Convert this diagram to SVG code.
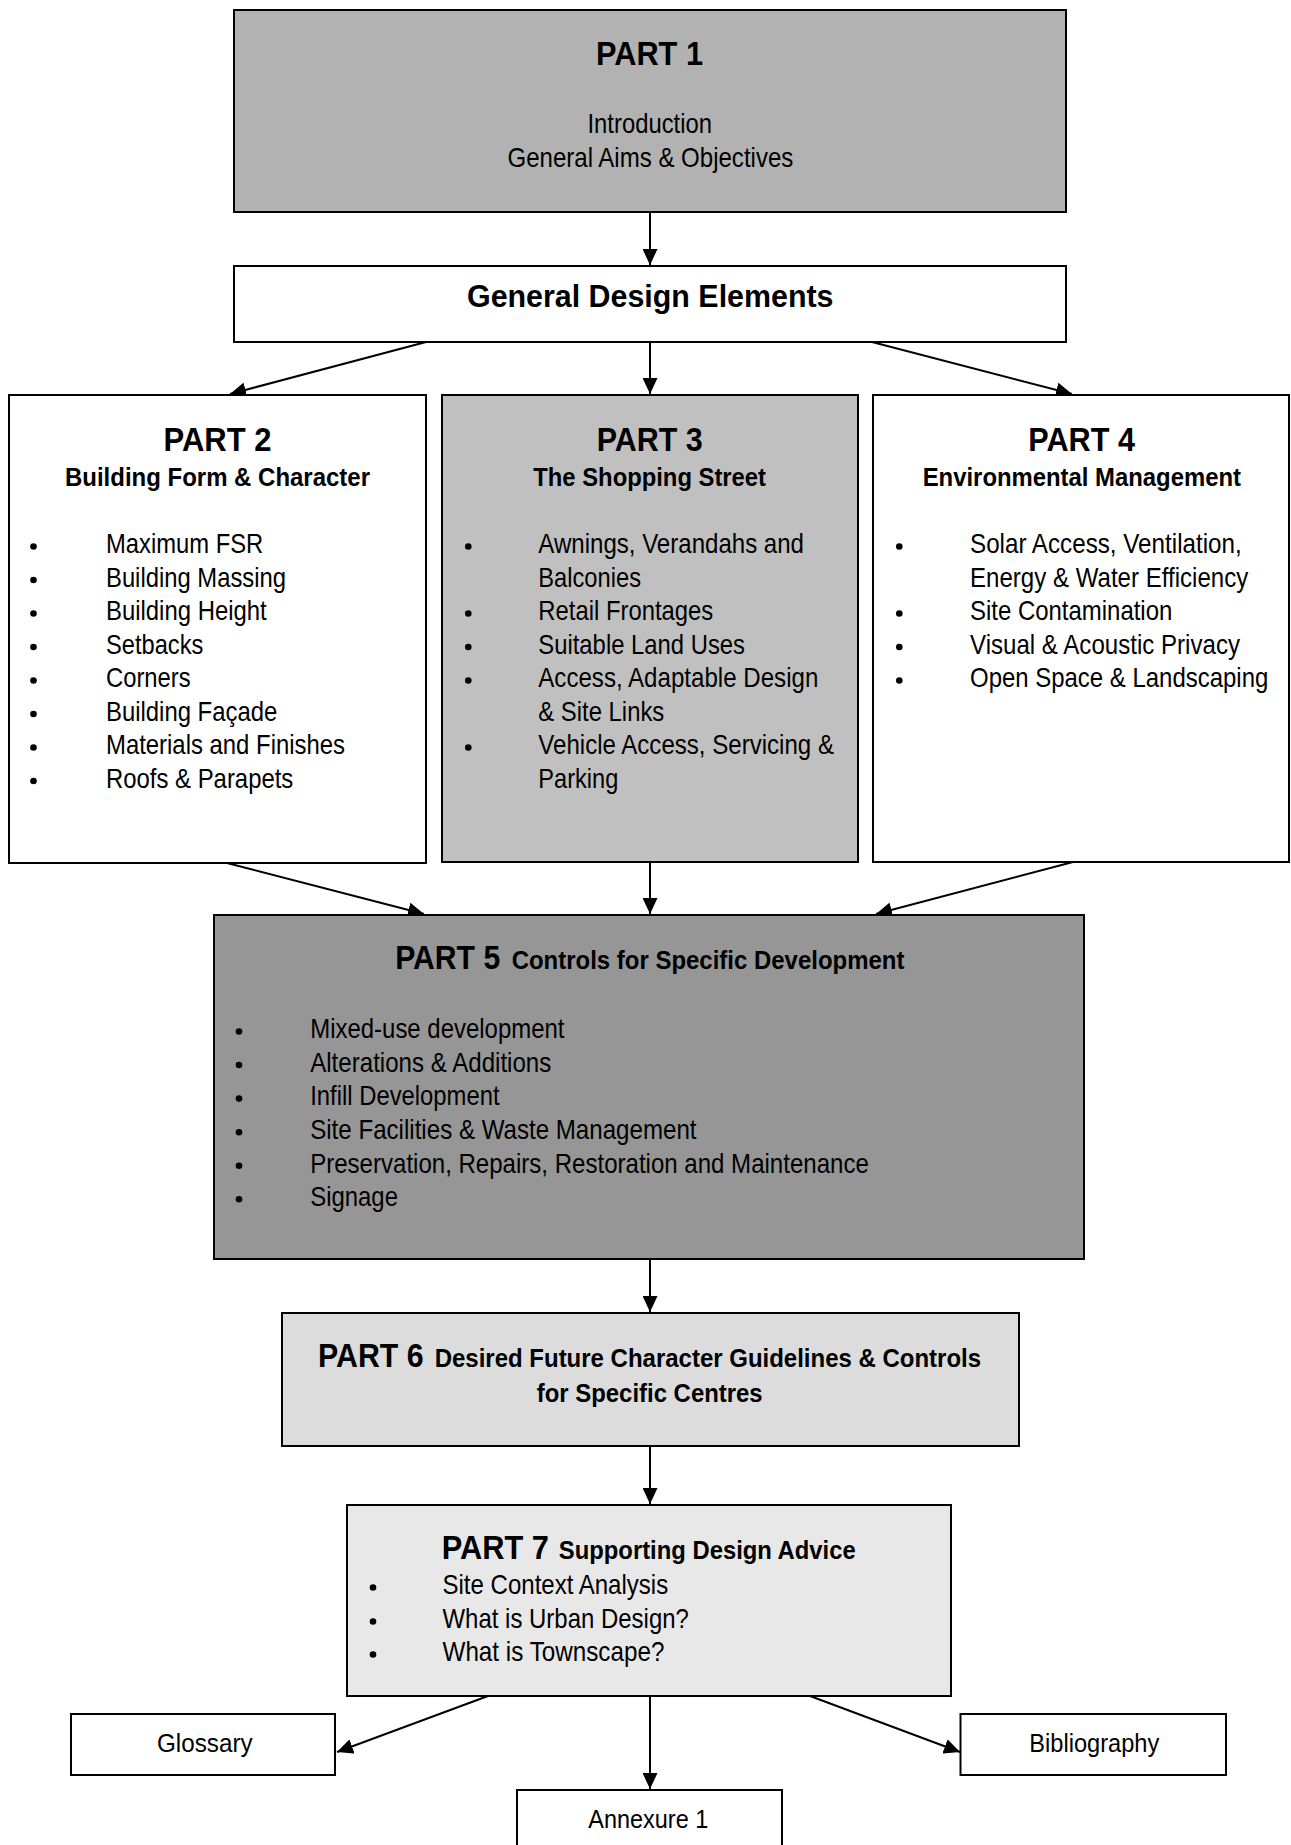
<svg xmlns="http://www.w3.org/2000/svg" width="1291" height="1845" viewBox="0 0 1291 1845">
<style>
.box{stroke:#000;stroke-width:2}
text{font-family:"Liberation Sans Narrow","Arial Narrow","Liberation Sans",Arial,sans-serif;fill:#000}
.t{font-size:34px;font-weight:bold}
.s{font-size:25px;font-weight:bold}
.s2{font-size:26px;font-weight:bold}
.b{font-size:28px}
.g{font-size:31px;font-weight:bold}
.m{font-size:26px}
.bul{fill:#000}
.con{stroke:#000;stroke-width:2;fill:none;marker-end:url(#ah)}
</style>
<defs>
<marker id="ah" viewBox="0 0 16 15" refX="16" refY="7.5" markerWidth="16" markerHeight="15" markerUnits="userSpaceOnUse" orient="auto">
<path d="M0,0 L16,7.5 L0,15 Z" fill="#000"/>
</marker>
</defs>
<rect width="1291" height="1845" fill="#fff"/>

<g id="connectors">
<line class="con" x1="650" y1="212" x2="650" y2="265"/>
<line class="con" x1="426" y1="342" x2="230" y2="394"/>
<line class="con" x1="650" y1="342" x2="650" y2="394"/>
<line class="con" x1="872" y1="342" x2="1072" y2="394"/>
<line class="con" x1="227" y1="863" x2="424" y2="914"/>
<line class="con" x1="650" y1="862" x2="650" y2="914"/>
<line class="con" x1="1073" y1="862" x2="876" y2="914"/>
<line class="con" x1="650" y1="1259" x2="650" y2="1312"/>
<line class="con" x1="650" y1="1446" x2="650" y2="1504"/>
<line class="con" x1="488" y1="1696" x2="337" y2="1752"/>
<line class="con" x1="650" y1="1696" x2="650" y2="1789"/>
<line class="con" x1="810" y1="1696" x2="960" y2="1752"/>
</g>

<g id="part1">
<rect class="box" x="234" y="10" width="832" height="202" fill="#b2b2b2"/>
<text class="t" x="596" y="65" textLength="107" lengthAdjust="spacingAndGlyphs">PART 1</text>
<text class="b" x="587.5" y="133" textLength="124.5" lengthAdjust="spacingAndGlyphs">Introduction</text>
<text class="b" x="507.5" y="166.5" textLength="285.8" lengthAdjust="spacingAndGlyphs">General Aims &amp; Objectives</text>
</g>

<g id="general-design-elements">
<rect class="box" x="234" y="266" width="832" height="76" fill="#fff"/>
<text class="g" x="467" y="306.5" textLength="366.5" lengthAdjust="spacingAndGlyphs">General Design Elements</text>
</g>

<g id="part2">
<rect class="box" x="9" y="395" width="417" height="468" fill="#fff"/>
<text class="t" x="163.5" y="450.5" textLength="108" lengthAdjust="spacingAndGlyphs">PART 2</text>
<text class="s" x="65" y="485.5" textLength="305" lengthAdjust="spacingAndGlyphs">Building Form &amp; Character</text>
<circle class="bul" cx="33.5" cy="546.5" r="3.3"/>
<circle class="bul" cx="33.5" cy="580" r="3.3"/>
<circle class="bul" cx="33.5" cy="613.5" r="3.3"/>
<circle class="bul" cx="33.5" cy="647" r="3.3"/>
<circle class="bul" cx="33.5" cy="680.5" r="3.3"/>
<circle class="bul" cx="33.5" cy="714" r="3.3"/>
<circle class="bul" cx="33.5" cy="747.5" r="3.3"/>
<circle class="bul" cx="33.5" cy="781" r="3.3"/>
<text class="b" x="106" y="553" textLength="157.3" lengthAdjust="spacingAndGlyphs">Maximum FSR</text>
<text class="b" x="106" y="586.5" textLength="180" lengthAdjust="spacingAndGlyphs">Building Massing</text>
<text class="b" x="106" y="620" textLength="160.7" lengthAdjust="spacingAndGlyphs">Building Height</text>
<text class="b" x="106" y="653.5" textLength="97.3" lengthAdjust="spacingAndGlyphs">Setbacks</text>
<text class="b" x="106" y="687" textLength="84.7" lengthAdjust="spacingAndGlyphs">Corners</text>
<text class="b" x="106" y="720.5" textLength="171.3" lengthAdjust="spacingAndGlyphs">Building Façade</text>
<text class="b" x="106" y="754" textLength="239" lengthAdjust="spacingAndGlyphs">Materials and Finishes</text>
<text class="b" x="106" y="787.5" textLength="187.3" lengthAdjust="spacingAndGlyphs">Roofs &amp; Parapets</text>
</g>

<g id="part3">
<rect class="box" x="442" y="395" width="416" height="467" fill="#c0c0c0"/>
<text class="t" x="596.7" y="450.5" textLength="106" lengthAdjust="spacingAndGlyphs">PART 3</text>
<text class="s" x="533.3" y="485.5" textLength="232.7" lengthAdjust="spacingAndGlyphs">The Shopping Street</text>
<circle class="bul" cx="468.3" cy="546.5" r="3.3"/>
<circle class="bul" cx="468.3" cy="613.5" r="3.3"/>
<circle class="bul" cx="468.3" cy="647" r="3.3"/>
<circle class="bul" cx="468.3" cy="680.5" r="3.3"/>
<circle class="bul" cx="468.3" cy="747.5" r="3.3"/>
<text class="b" x="538.3" y="553" textLength="265.7" lengthAdjust="spacingAndGlyphs">Awnings, Verandahs and</text>
<text class="b" x="538.3" y="586.5" textLength="102.7" lengthAdjust="spacingAndGlyphs">Balconies</text>
<text class="b" x="538.3" y="620" textLength="175" lengthAdjust="spacingAndGlyphs">Retail Frontages</text>
<text class="b" x="538.3" y="653.5" textLength="206.7" lengthAdjust="spacingAndGlyphs">Suitable Land Uses</text>
<text class="b" x="538.3" y="687" textLength="280" lengthAdjust="spacingAndGlyphs">Access, Adaptable Design</text>
<text class="b" x="538.3" y="720.5" textLength="126" lengthAdjust="spacingAndGlyphs">&amp; Site Links</text>
<text class="b" x="538.3" y="754" textLength="295.7" lengthAdjust="spacingAndGlyphs">Vehicle Access, Servicing &amp;</text>
<text class="b" x="538.3" y="787.5" textLength="80" lengthAdjust="spacingAndGlyphs">Parking</text>
</g>

<g id="part4">
<rect class="box" x="873" y="395" width="416" height="467" fill="#fff"/>
<text class="t" x="1028.3" y="450.5" textLength="106.7" lengthAdjust="spacingAndGlyphs">PART 4</text>
<text class="s" x="922.7" y="485.5" textLength="318.3" lengthAdjust="spacingAndGlyphs">Environmental Management</text>
<circle class="bul" cx="899.3" cy="546.5" r="3.3"/>
<circle class="bul" cx="899.3" cy="613.5" r="3.3"/>
<circle class="bul" cx="899.3" cy="647" r="3.3"/>
<circle class="bul" cx="899.3" cy="680.5" r="3.3"/>
<text class="b" x="970" y="553" textLength="271.7" lengthAdjust="spacingAndGlyphs">Solar Access, Ventilation,</text>
<text class="b" x="970" y="586.5" textLength="278.3" lengthAdjust="spacingAndGlyphs">Energy &amp; Water Efficiency</text>
<text class="b" x="970" y="620" textLength="202.3" lengthAdjust="spacingAndGlyphs">Site Contamination</text>
<text class="b" x="970" y="653.5" textLength="270" lengthAdjust="spacingAndGlyphs">Visual &amp; Acoustic Privacy</text>
<text class="b" x="970" y="687" textLength="298.3" lengthAdjust="spacingAndGlyphs">Open Space &amp; Landscaping</text>
</g>

<g id="part5">
<rect class="box" x="214" y="915" width="870" height="344" fill="#969696"/>
<text class="t" x="395.2" y="969.3" textLength="105" lengthAdjust="spacingAndGlyphs">PART 5</text>
<text class="s2" x="511.7" y="969.3" textLength="392.7" lengthAdjust="spacingAndGlyphs">Controls for Specific Development</text>
<circle class="bul" cx="239" cy="1031.5" r="3.3"/>
<circle class="bul" cx="239" cy="1065" r="3.3"/>
<circle class="bul" cx="239" cy="1098.6" r="3.3"/>
<circle class="bul" cx="239" cy="1132.2" r="3.3"/>
<circle class="bul" cx="239" cy="1165.7" r="3.3"/>
<circle class="bul" cx="239" cy="1199.2" r="3.3"/>
<text class="b" x="310.2" y="1038.3" textLength="254.3" lengthAdjust="spacingAndGlyphs">Mixed-use development</text>
<text class="b" x="310.2" y="1071.8" textLength="241.1" lengthAdjust="spacingAndGlyphs">Alterations &amp; Additions</text>
<text class="b" x="310.2" y="1105.4" textLength="189.4" lengthAdjust="spacingAndGlyphs">Infill Development</text>
<text class="b" x="310.2" y="1139" textLength="386.3" lengthAdjust="spacingAndGlyphs">Site Facilities &amp; Waste Management</text>
<text class="b" x="310.2" y="1172.5" textLength="558.6" lengthAdjust="spacingAndGlyphs">Preservation, Repairs, Restoration and Maintenance</text>
<text class="b" x="310.2" y="1206" textLength="87.8" lengthAdjust="spacingAndGlyphs">Signage</text>
</g>

<g id="part6">
<rect class="box" x="282" y="1313" width="737" height="133" fill="#dcdcdc"/>
<text class="t" x="318" y="1367.3" textLength="105.6" lengthAdjust="spacingAndGlyphs">PART 6</text>
<text class="s2" x="434.7" y="1367.3" textLength="546.4" lengthAdjust="spacingAndGlyphs">Desired Future Character Guidelines &amp; Controls</text>
<text class="s2" x="536.7" y="1401.7" textLength="226" lengthAdjust="spacingAndGlyphs">for Specific Centres</text>
</g>

<g id="part7">
<rect class="box" x="347" y="1505" width="604" height="191" fill="#e8e8e8"/>
<text class="t" x="441.7" y="1559.3" textLength="107.2" lengthAdjust="spacingAndGlyphs">PART 7</text>
<text class="s2" x="558.8" y="1559.3" textLength="296.9" lengthAdjust="spacingAndGlyphs">Supporting Design Advice</text>
<circle class="bul" cx="373" cy="1587.5" r="3.3"/>
<circle class="bul" cx="373" cy="1621.5" r="3.3"/>
<circle class="bul" cx="373" cy="1654.5" r="3.3"/>
<text class="b" x="442.5" y="1594.3" textLength="225.7" lengthAdjust="spacingAndGlyphs">Site Context Analysis</text>
<text class="b" x="442.5" y="1628.3" textLength="246.4" lengthAdjust="spacingAndGlyphs">What is Urban Design?</text>
<text class="b" x="442.5" y="1661.3" textLength="221.9" lengthAdjust="spacingAndGlyphs">What is Townscape?</text>
</g>

<g id="glossary">
<rect class="box" x="71" y="1714" width="264" height="61" fill="#fff"/>
<text class="m" x="157" y="1751.7" textLength="95.6" lengthAdjust="spacingAndGlyphs">Glossary</text>
</g>

<g id="bibliography">
<rect class="box" x="960.5" y="1714" width="265.5" height="61" fill="#fff"/>
<text class="m" x="1029.3" y="1751.7" textLength="130" lengthAdjust="spacingAndGlyphs">Bibliography</text>
</g>

<g id="annexure1">
<rect class="box" x="517" y="1790" width="265" height="70" fill="#fff"/>
<text class="m" x="588.3" y="1828.3" textLength="120" lengthAdjust="spacingAndGlyphs">Annexure 1</text>
</g>
</svg>
